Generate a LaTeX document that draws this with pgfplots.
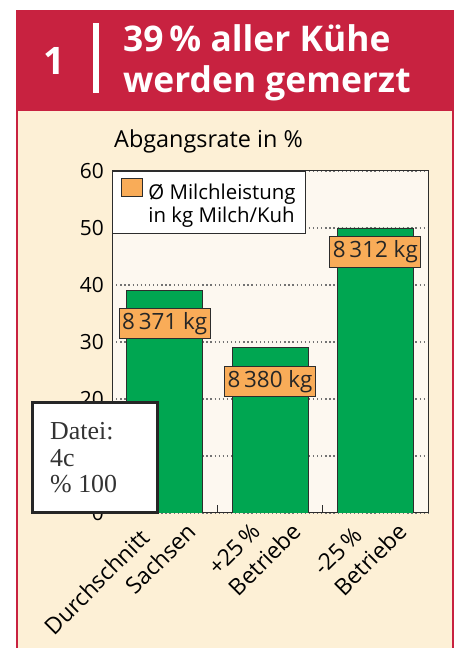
\documentclass[border=0pt]{standalone}
\usepackage{pgfplots}
\pgfplotsset{compat=1.18}
\usepackage{fontspec}
\setmainfont{Open Sans}
\newfontfamily\seriffont{Liberation Serif}
\definecolor{hdrred}{RGB}{200,34,64}
\definecolor{cream}{RGB}{253,240,214}
\definecolor{plotbg}{RGB}{253,248,240}
\definecolor{barg}{RGB}{0,166,81}
\definecolor{lblor}{RGB}{249,172,88}
\definecolor{axcol}{RGB}{45,45,45}
\begin{document}
\begin{tikzpicture}[x=1bp,y=1bp]
\useasboundingbox (0,0) rectangle (458,648);
\fill[white] (0,0) rectangle (458,648);
\fill[hdrred] (15.5,0) rectangle (454,638);
\fill[cream] (18,0) rectangle (451.5,537);
\node[text=white, font=\fontsize{38}{38}\selectfont\bfseries, inner sep=0, anchor=base] at (54,573) {1};
\fill[white] (93,555) rectangle (99,625);
\node[anchor=base west, text=white, font=\fontsize{35.5}{36}\selectfont\bfseries, inner sep=0] at (123,596) {39\,\% aller Kühe};
\node[anchor=base west, text=white, font=\fontsize{35.5}{36}\selectfont\bfseries, inner sep=0] at (123,555) {werden gemerzt};
\begin{axis}[
  at={(112bp,135bp)}, anchor=south west,
  scale only axis, width=316bp, height=342bp,
  xmin=-0.5, xmax=2.5, ymin=0, ymax=60,
  ytick={0,10,...,60},
  xtick={0,1,2},
  xticklabels={{Durchschnitt\\\hspace*{86bp}Sachsen},{+25\,\%\\Betriebe},{-25\,\%\\Betriebe}},
  xticklabel style={font=\fontsize{23}{29}\selectfont, align=left, xshift=17bp, yshift=-4bp, rotate=45, anchor=east, inner sep=0pt},
  yticklabel style={font=\fontsize{21}{21}\selectfont, inner sep=0pt, xshift=-8bp},
  /pgf/number format/assume math mode=true,
  major tick length=0pt,
  minor x tick num=1,
  minor tick length=8bp,
  tick align=inside,
  xtick pos=lower,
  tick style={draw=axcol, line width=1bp},
  minor tick style={draw=axcol, line width=1bp},
  axis background/.style={fill=plotbg},
  axis line style={draw=axcol, line width=1bp},
  ymajorgrids,
  grid style={draw=black!55, line width=1.3bp, dash pattern=on 1.3bp off 2.8bp},
  title={Abgangsrate in \%},
  title style={at={(0,1)}, anchor=base west, xshift=2bp, yshift=18bp, font=\fontsize{23.5}{24}\selectfont, inner sep=0pt},
  legend style={at={(0,1)}, anchor=north west, draw=axcol, line width=1bp, fill=white,
    font=\fontsize{20.5}{24}\selectfont, row sep=2bp, inner xsep=8bp, inner ysep=7bp},
  legend cell align=left,
]
\addplot[forget plot, ybar, bar width=76bp, fill=barg, draw=axcol, line width=0.9bp]
  coordinates {(0,39) (1,29) (2,50)};
\addplot[forget plot, draw=none, mark=none, nodes near coords, point meta=explicit symbolic,
  every node near coord/.style={anchor=center, fill=lblor, draw=axcol, line width=0.9bp,
    inner xsep=3bp, inner ysep=4bp, font=\fontsize{22.5}{22.5}\selectfont, text=black!85}]
  coordinates {(0,33.3) [8\,371~kg] (1,23.1) [8\,380~kg] (2,45.8) [8\,312~kg]};
\addlegendimage{legend image code/.code={\draw[fill=lblor, draw=axcol, line width=0.9bp] (0bp,-4bp) rectangle (21bp,14bp);}}
\addlegendentry{\hspace*{4bp}Ø Milchleistung}
\addlegendimage{empty legend}
\addlegendentry{\hspace*{4bp}in kg Milch/Kuh}
\end{axis}
\filldraw[fill=white, draw=black!85, line width=3bp] (32,135) rectangle (157,245);
\node[anchor=base west, inner sep=0, font=\seriffont\fontsize{26}{26}\selectfont, text=black!80] at (50,208) {Datei:};
\node[anchor=base west, inner sep=0, font=\seriffont\fontsize{26}{26}\selectfont, text=black!80] at (50,181) {4c};
\node[anchor=base west, inner sep=0, font=\seriffont\fontsize{26}{26}\selectfont, text=black!80] at (50,155) {\% 100};
\end{tikzpicture}
\end{document}
